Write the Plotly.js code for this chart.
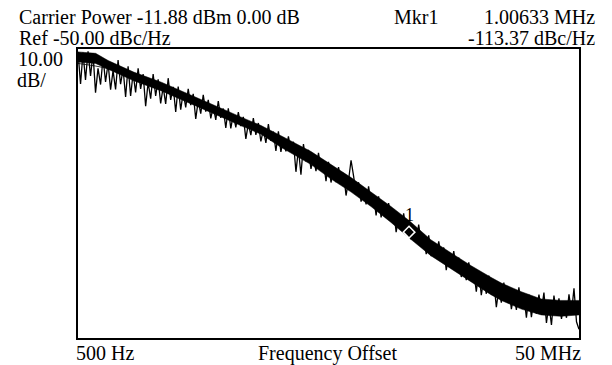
<!DOCTYPE html>
<html>
<head>
<meta charset="utf-8">
<script src="https://cdn.plot.ly/plotly-3.0.1.min.js"></script>
<style>html,body{margin:0;padding:0;background:#fff;}#chart{width:612px;height:365px;}</style>
</head>
<body>
<div id="chart"></div>
<script>
// Frequency offset (Hz) of the measured trace
const freqHz = [
  500, 530, 561, 594, 630, 667, 706, 748, 792, 840, 889, 942, 998, 1057, 1119, 1186, 1256, 1330, 1409, 1493,
  1581, 1675, 1774, 1879, 1991, 2109, 2234, 2366, 2506, 2655, 2812, 2979, 3155, 3342, 3540, 3750, 3972, 4207, 4457, 4721,
  5000, 5297, 5610, 5942, 6295, 6668, 7063, 7482, 7924, 8394, 8891, 9418, 9976, 10570, 11190, 11860, 12560, 13300, 14090, 14930,
  15810, 16750, 17740, 18790, 19910, 21090, 22340, 23660, 25060, 26550, 28120, 29790, 31550, 33420, 35400, 37500, 39720, 42070, 44560, 47210,
  5.0e4, 5.297e4, 5.61e4, 5.942e4, 6.295e4, 6.668e4, 7.063e4, 7.482e4, 7.924e4, 8.394e4, 8.891e4, 9.418e4, 9.976e4, 1.057e5, 1.119e5, 1.186e5, 1.256e5, 1.33e5, 1.409e5, 1.493e5,
  1.581e5, 1.675e5, 1.774e5, 1.879e5, 1.991e5, 2.109e5, 2.234e5, 2.366e5, 2.506e5, 2.655e5, 2.812e5, 2.979e5, 3.155e5, 3.342e5, 3.54e5, 3.75e5, 3.972e5, 4.207e5, 4.456e5, 4.721e5,
  5.0e5, 5.297e5, 5.61e5, 5.942e5, 6.295e5, 6.668e5, 7.063e5, 7.482e5, 7.924e5, 8.394e5, 8.891e5, 9.418e5, 9.976e5, 1.057e6, 1.119e6, 1.186e6, 1.256e6, 1.33e6, 1.409e6, 1.493e6,
  1.581e6, 1.675e6, 1.774e6, 1.879e6, 1.991e6, 2.109e6, 2.234e6, 2.366e6, 2.506e6, 2.655e6, 2.812e6, 2.979e6, 3.155e6, 3.342e6, 3.54e6, 3.75e6, 3.972e6, 4.207e6, 4.456e6, 4.721e6,
  5.0e6, 5.297e6, 5.61e6, 5.942e6, 6.295e6, 6.668e6, 7.063e6, 7.482e6, 7.924e6, 8.394e6, 8.891e6, 9.418e6, 9.976e6, 1.057e7, 1.119e7, 1.186e7, 1.256e7, 1.33e7, 1.409e7, 1.493e7,
  1.581e7, 1.675e7, 1.774e7, 1.879e7, 1.991e7, 2.109e7, 2.234e7, 2.366e7, 2.506e7, 2.655e7, 2.812e7, 2.979e7, 3.155e7, 3.342e7, 3.54e7, 3.75e7, 3.972e7, 4.207e7, 4.456e7, 4.721e7,
  5.0e7
];
const noiseDbcHz = [
  -51.0, -62.1, -51.2, -60.7, -50.8, -59.3, -51.5, -65.1, -56.7, -62.3,
  -53.1, -61.4, -54.9, -64.1, -57.5, -64.0, -53.8, -62.2, -56.9, -66.6,
  -56.0, -66.2, -58.4, -65.0, -56.7, -63.8, -58.7, -69.8, -61.5, -67.2,
  -58.7, -66.2, -60.5, -68.8, -63.1, -69.0, -60.1, -67.6, -63.1, -71.8,
  -63.0, -71.0, -65.0, -70.2, -63.8, -69.4, -65.5, -74.2, -67.8, -72.4,
  -65.9, -71.7, -67.6, -74.0, -69.9, -74.5, -68.0, -73.8, -70.6, -77.3,
  -70.5, -77.5, -72.5, -77.1, -71.8, -76.7, -73.5, -81.1, -75.8, -79.8,
  -73.9, -79.7, -75.6, -82.0, -77.9, -82.5, -76.0, -81.8, -78.6, -85.3,
  -78.5, -85.6, -80.7, -85.4, -80.2, -85.2, -82.1, -92.5, -84.6, -93.5,
  -82.9, -88.9, -84.9, -91.5, -87.5, -92.3, -85.9, -91.9, -88.8, -95.7,
  -89.0, -96.2, -91.3, -96.1, -90.9, -96.0, -92.9, -100.7, -95.5, -88.5,
  -93.9, -100.0, -96.1, -102.8, -98.9, -103.8, -97.5, -103.6, -100.6, -107.6,
  -101.0, -108.3, -103.5, -108.4, -103.3, -108.5, -105.5, -113.4, -108.3, -112.6,
  -106.9, -113.0, -109.2, -115.9, -112.1, -117.0, -110.8, -116.9, -114.0, -121.0,
  -114.5, -121.7, -116.9, -121.7, -116.6, -121.7, -118.7, -126.5, -121.4, -125.6,
  -119.9, -126.0, -122.2, -128.9, -125.1, -130.0, -123.8, -129.9, -127.0, -134.0,
  -127.0, -135.2, -129.3, -134.7, -128.4, -134.2, -130.4, -139.3, -133.0, -137.8,
  -130.8, -137.5, -132.5, -140.0, -135.0, -140.3, -132.5, -139.3, -135.3, -143.0,
  -135.0, -142.8, -136.6, -141.6, -135.0, -140.4, -134.3, -144.8, -138.2, -145.5,
  -135.3, -141.6, -136.3, -143.4, -138.1, -143.0, -134.9, -141.3, -132.8, -144.4,
  -147.0
];
// Dense core of the noise band (upper / lower edge, dBc/Hz)
const bandFreqHz = [500, 750, 1000, 1800, 3400, 5300, 8400, 13400, 21000, 33600, 53000, 1.06e5, 1.68e5, 2.66e5, 4.2e5, 6.65e5, 1.02e6, 1.66e6, 2.63e6, 4.2e6, 6.6e6, 8.4e6, 1.33e7, 2.1e7, 3.3e7, 5e7];
const bandUpperDbcHz = [-51.0, -51.5, -54.0, -58.0, -61.5, -64.5, -67.5, -70.5, -73.5, -76.5, -80.0, -85.5, -90.0, -94.5, -99.5, -104.5, -109.5, -116.0, -120.5, -125.0, -129.0, -131.0, -134.0, -136.5, -137.0, -137.0];
const bandLowerDbcHz = [-54.5, -55.0, -57.0, -61.0, -64.5, -67.5, -70.5, -73.5, -76.5, -79.5, -84.0, -90.0, -95.0, -99.5, -104.5, -110.0, -115.5, -121.5, -126.0, -130.5, -135.0, -137.0, -140.0, -142.0, -142.5, -142.0];
// Smoothed trace
const smoothFreqHz = [500, 1000, 2000, 5000, 1e4, 2e4, 5e4, 1e5, 2e5, 5e5, 1e6, 2e6, 5e6, 1e7, 2e7, 5e7];
const smoothDbcHz = [-55.0, -56.8, -60.5, -65.5, -69.5, -74.0, -81.0, -87.0, -94.0, -103.5, -112.0, -119.5, -129.5, -135.0, -138.5, -139.5];
// Marker 1
const markerFreqHz = [1.00633e6];
const markerDbcHz = [-113.37];
const markerName = '1';

const FONT = '"Liberation Serif", "Times New Roman", "DejaVu Serif", serif';

const traces = [
  {x: bandFreqHz, y: bandLowerDbcHz, type: 'scatter', mode: 'lines',
   line: {color: '#000', width: 0.5}, hoverinfo: 'skip'},
  {x: bandFreqHz, y: bandUpperDbcHz, type: 'scatter', mode: 'lines', fill: 'tonexty', fillcolor: '#000',
   line: {color: '#000', width: 0.5}, hoverinfo: 'skip'},
  {x: freqHz, y: noiseDbcHz, type: 'scatter', mode: 'lines',
   line: {color: '#000', width: 1.3, simplify: false}, hoverinfo: 'skip'},
  {x: smoothFreqHz, y: smoothDbcHz, type: 'scatter', mode: 'lines',
   line: {color: '#000', width: 0.8, shape: 'spline'}, hoverinfo: 'skip'},
  {x: markerFreqHz, y: markerDbcHz, type: 'scatter', mode: 'markers',
   marker: {symbol: 'diamond-open', size: 9, color: '#fff', line: {color: '#fff', width: 1.5}}}
];

function px2x(px) { return (px - 78) / 501; }
function py2y(py) { return (338 - py) / 289; }
function ann(text, px, py, xanchor) {
  return {text: text, xref: 'paper', yref: 'paper', x: px2x(px), y: py2y(py),
          xanchor: xanchor, yanchor: 'middle', showarrow: false,
          font: {family: FONT, size: 20, color: '#000'}};
}

const layout = {
  width: 612, height: 365,
  margin: {l: 78, r: 33, t: 49, b: 27, pad: 0},
  paper_bgcolor: '#fff', plot_bgcolor: '#fff',
  showlegend: false,
  font: {family: FONT, color: '#000'},
  xaxis: {type: 'log', range: [Math.log10(500), Math.log10(5e7)], showgrid: false, zeroline: false,
          showticklabels: false, ticks: '', showline: true, mirror: true, linecolor: '#000', linewidth: 2},
  yaxis: {range: [-150, -50], showgrid: false, zeroline: false,
          showticklabels: false, ticks: '', showline: true, mirror: true, linecolor: '#000', linewidth: 2},
  annotations: [
    ann('Carrier Power -11.88 dBm 0.00 dB', 17, 17, 'left'),
    ann('Ref -50.00 dBc/Hz', 17, 38, 'left'),
    ann('10.00', 16, 59, 'left'),
    ann('dB/', 15, 80, 'left'),
    ann('Mkr1', 392, 17, 'left'),
    ann('1.00633 MHz', 597, 17, 'right'),
    ann('-113.37 dBc/Hz', 597, 38, 'right'),
    ann('500 Hz', 74, 353, 'left'),
    ann('Frequency Offset', 327, 353, 'center'),
    ann('50 MHz', 583, 353, 'right'),
    {text: markerName, x: Math.log10(markerFreqHz[0]), y: markerDbcHz[0], xref: 'x', yref: 'y',
     showarrow: false, yshift: 17, font: {family: FONT, size: 18, color: '#000'}}
  ]
};

Plotly.newPlot('chart', traces, layout, {staticPlot: true, displayModeBar: false});
</script>
</body>
</html>
